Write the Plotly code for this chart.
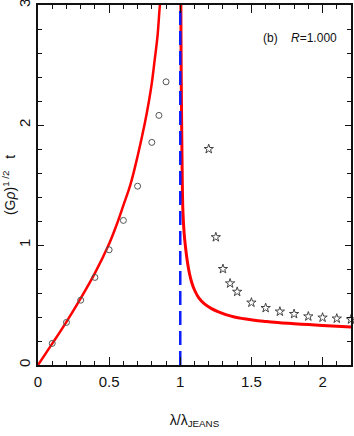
"""Growth time vs. wavelength in Jeans units, panel (b), R = 1.000."""

import plotly.graph_objects as go

# Simulation points below the Jeans length (open circles)
circle_x = [0.1, 0.2, 0.3, 0.4, 0.5, 0.6, 0.7, 0.8, 0.85, 0.9]
circle_y = [0.18, 0.355, 0.54, 0.73, 0.96, 1.205, 1.49, 1.855, 2.08, 2.36]

# Simulation points above the Jeans length (open stars)
star_x = [1.2, 1.25, 1.3, 1.35, 1.4, 1.5, 1.6, 1.7, 1.8, 1.9, 2.0, 2.1, 2.2]
star_y = [1.80, 1.065, 0.80, 0.68, 0.61, 0.52, 0.475, 0.445, 0.425, 0.405,
          0.395, 0.387, 0.38]

# Theory curve, stable (oscillating) branch
theory_low_x = [0.0, 0.05, 0.1, 0.2, 0.3, 0.4, 0.5, 0.55, 0.6, 0.65, 0.7,
                0.75, 0.78, 0.8, 0.82, 0.84, 0.857, 0.87]
theory_low_y = [0.0, 0.089, 0.178, 0.36, 0.555, 0.765, 1.01, 1.16, 1.33,
                1.505, 1.74, 2.01, 2.2, 2.35, 2.54, 2.74, 3.0, 3.13]

# Theory curve, unstable (growing) branch
theory_high_x = [1.003, 1.005, 1.007, 1.012, 1.018, 1.027, 1.037, 1.05, 1.065,
                 1.08, 1.1, 1.13, 1.17, 1.22, 1.264, 1.32, 1.38, 1.45, 1.52,
                 1.6, 1.7, 1.8, 1.9, 2.0, 2.1, 2.2]
theory_high_y = [3.4, 2.75, 2.35, 1.75, 1.3, 1.1, 0.98, 0.86, 0.76, 0.69,
                 0.625, 0.56, 0.51, 0.47, 0.445, 0.42, 0.40, 0.385, 0.373,
                 0.363, 0.352, 0.344, 0.337, 0.329, 0.323, 0.317]

jeans_x = 1.0
x_range = [0, 2.2]
y_range = [0, 3]
x_tick_vals = [0, 0.5, 1, 1.5, 2]
x_tick_text = ["0", "0.5", "1", "1.5", "2"]
y_tick_vals = [0, 1, 2, 3]
y_tick_text = ["0", "1", "2", "3"]

FONT = "Liberation Sans Narrow, Arial Narrow, Liberation Sans, Arial, sans-serif"

fig = go.Figure()

fig.add_trace(go.Scatter(
    x=theory_low_x, y=theory_low_y, mode="lines",
    line=dict(color="#ff0000", width=2.5, shape="spline"),
    hoverinfo="skip",
))
fig.add_trace(go.Scatter(
    x=theory_high_x, y=theory_high_y, mode="lines",
    line=dict(color="#ff0000", width=3, shape="spline"),
    hoverinfo="skip",
))
fig.add_trace(go.Scatter(
    x=[jeans_x, jeans_x], y=y_range, mode="lines",
    line=dict(color="#0a1eff", width=2.5, dash="14px,6px"),
    hoverinfo="skip",
))
fig.add_trace(go.Scatter(
    x=circle_x, y=circle_y, mode="markers",
    marker=dict(symbol="circle-open", size=6, color="#555555",
                line=dict(width=1)),
))
fig.add_trace(go.Scatter(
    x=star_x, y=star_y, mode="markers", cliponaxis=False,
    marker=dict(symbol="star-open", size=7, color="#444444",
                line=dict(width=1)),
))

axis_common = dict(
    showline=True, linecolor="#111111", linewidth=1.5, mirror="ticks",
    ticks="inside", tickcolor="#111111", tickwidth=1.2,
    showgrid=False, zeroline=False, automargin=False,
    ticklabeloverflow="allow",
    tickfont=dict(family=FONT, size=15, color="#111111"),
)

fig.update_xaxes(
    range=x_range, tickvals=x_tick_vals, ticktext=x_tick_text, ticklen=8,
    ticklabelstandoff=2,
    minor=dict(dtick=0.1, ticks="inside", ticklen=4, tickcolor="#111111",
               showgrid=False),
    title=dict(text="λ/λ<sub>JEANS</sub>", standoff=26,
               font=dict(family=FONT, size=14, color="#111111")),
    **axis_common,
)
fig.update_yaxes(
    range=y_range, tickvals=y_tick_vals, ticktext=y_tick_text, ticklen=6,
    tickangle=-90,
    minor=dict(dtick=0.2, ticks="inside", ticklen=4, tickcolor="#111111",
               showgrid=False),
    title=dict(text="(G<i>ρ</i>)<sup>1 /2</sup>   t", standoff=5,
               font=dict(family=FONT, size=14, color="#111111")),
    **axis_common,
)

fig.add_annotation(
    x=0.962, y=0.908, xref="paper", yref="paper", showarrow=False,
    xanchor="right", yanchor="middle",
    text="(b)    <i>R</i>=1.000",
    font=dict(family=FONT, size=12, color="#111111"),
)

fig.update_layout(
    width=354, height=436,
    margin=dict(l=38, r=3, t=5, b=71),
    plot_bgcolor="white", paper_bgcolor="white",
    showlegend=False,
)

# drop the browser's default 8px body margin so the figure sits at the corner
fig.write_html(
    "out.html",
    config={"displayModeBar": False},
    post_script="document.body.style.margin = '0';",
)
